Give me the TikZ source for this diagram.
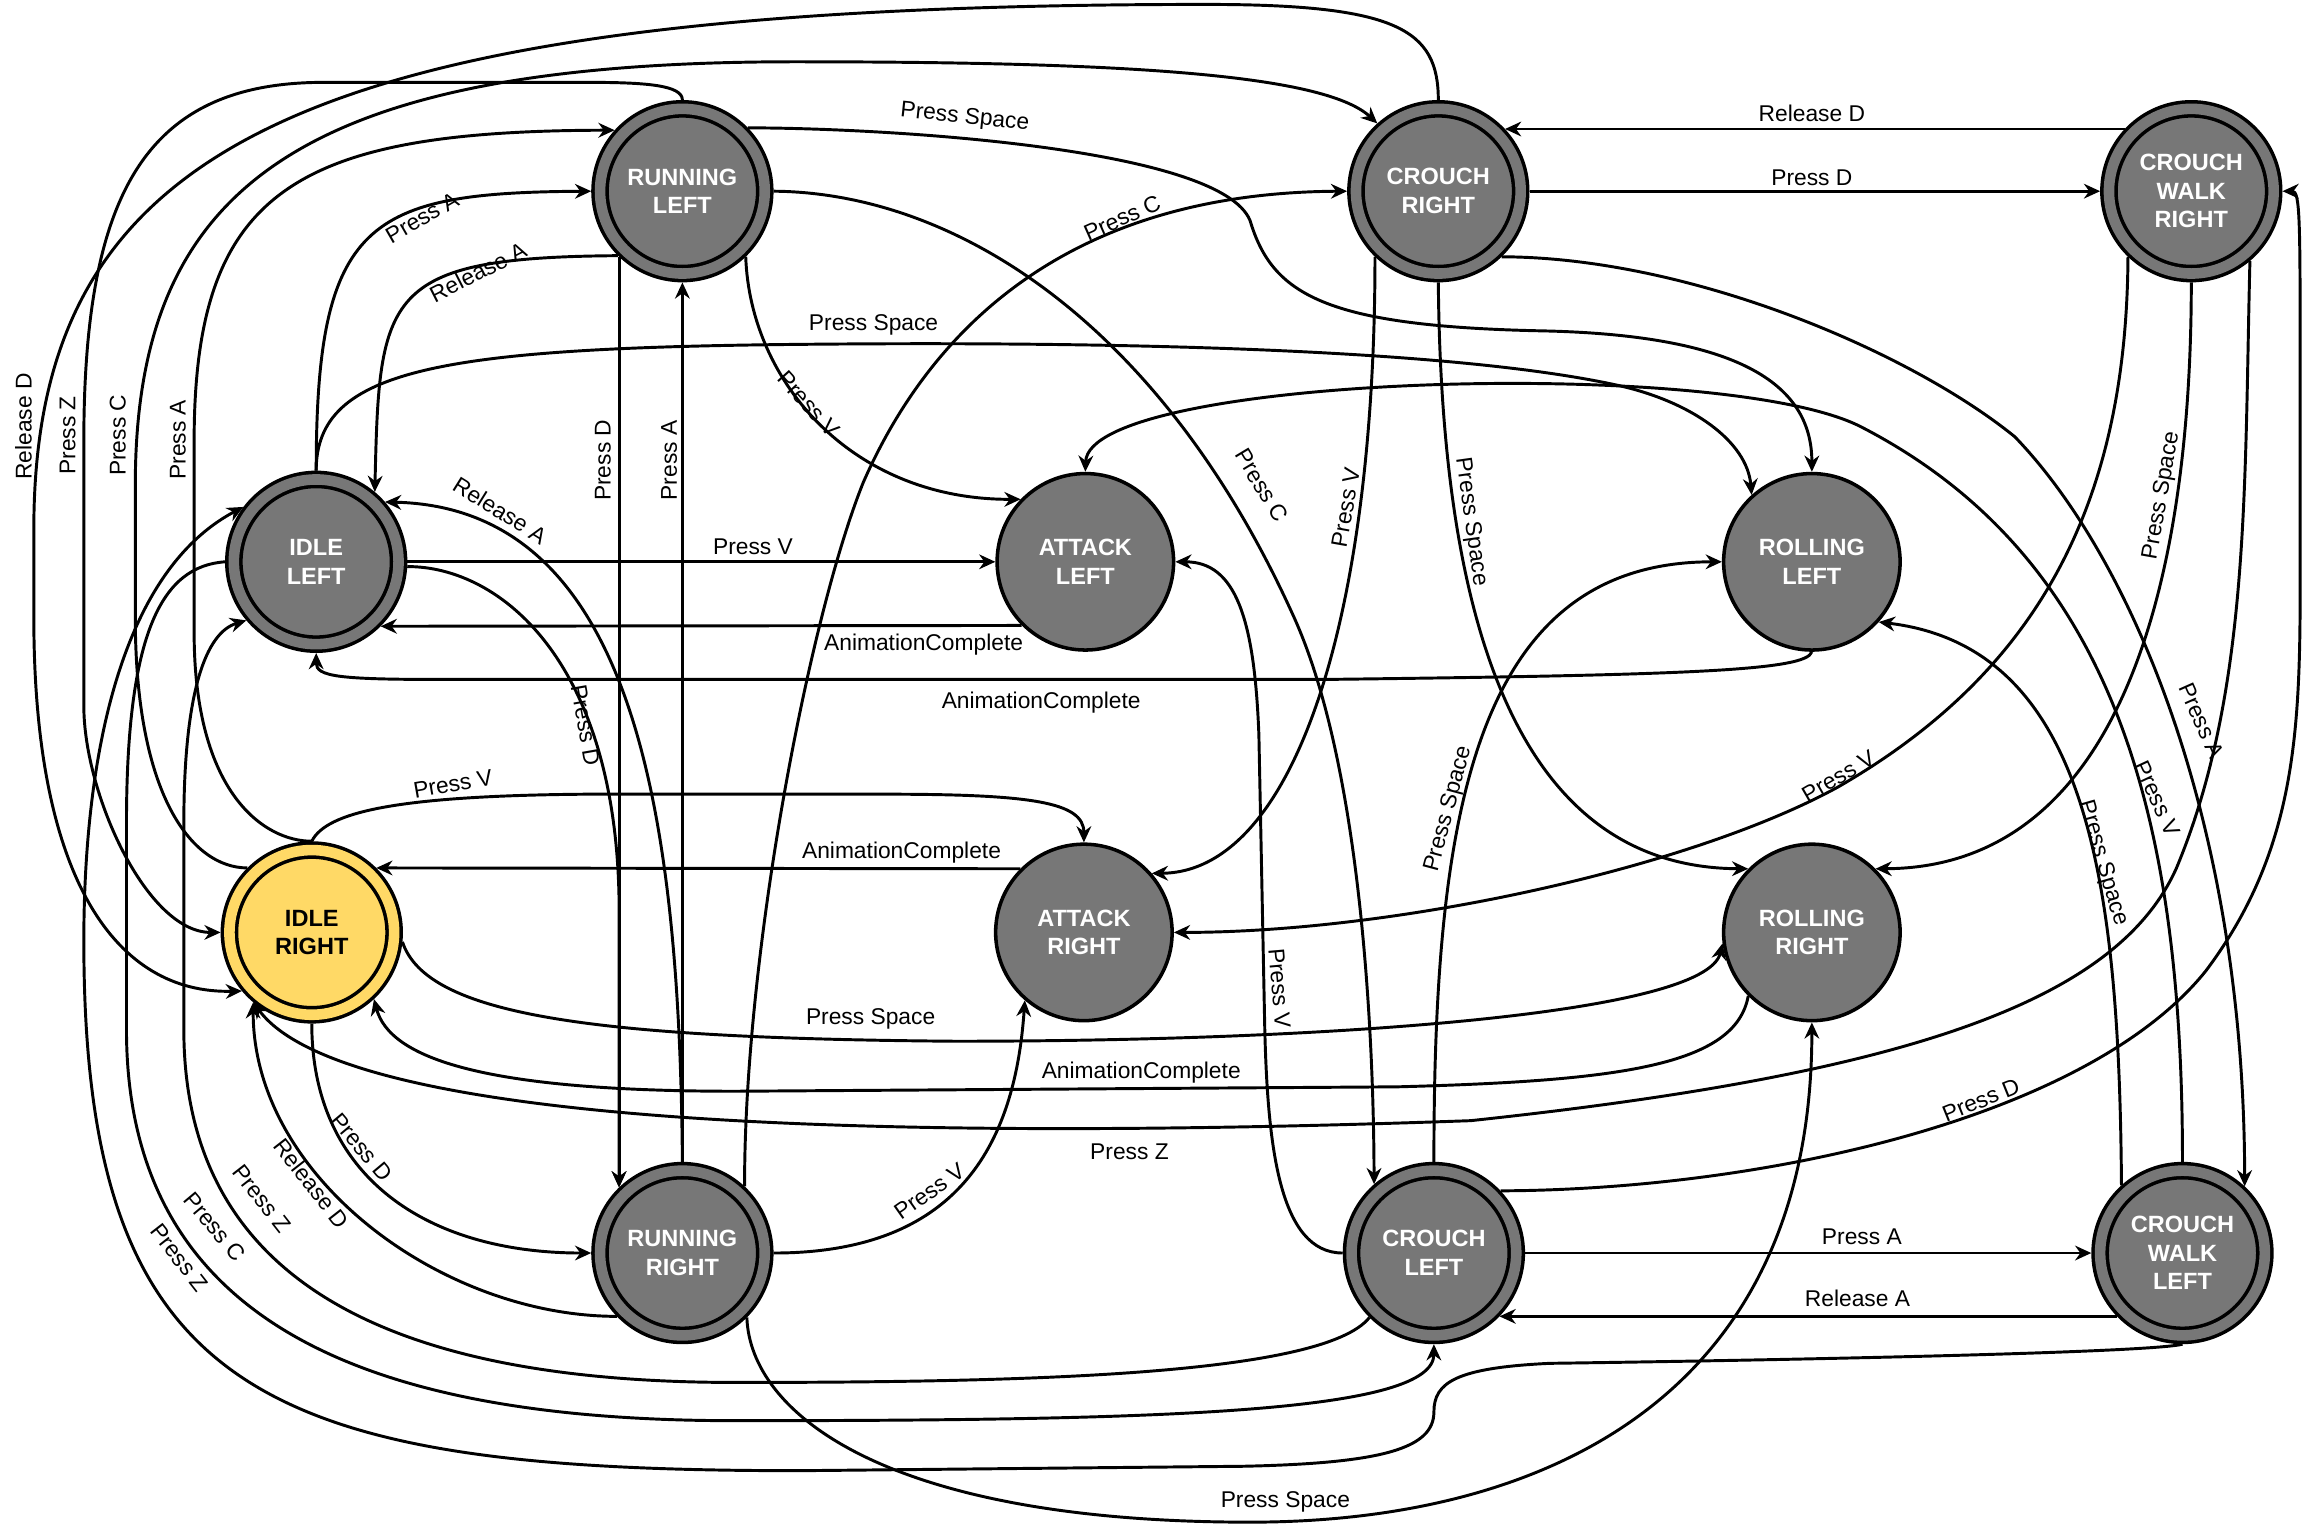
\documentclass[tikz,border=0pt]{standalone}
\usepackage{fontspec}
\setmainfont{Liberation Sans}
\usepackage{tikz}
\usetikzlibrary{arrows.meta}

\definecolor{stategray}{HTML}{777777}
\definecolor{idleyellow}{HTML}{FFD966}

\tikzset{
  dstate/.style={circle, draw, line width=2.4pt, fill=stategray, double=stategray,
    double distance=7.2pt, minimum size=112pt, inner sep=0pt, outer sep=6pt,
    align=center, text=white, font=\fontsize{16}{19.5}\selectfont\bfseries},
  istate/.style={dstate, fill=idleyellow, double=idleyellow, text=black},
  sstate/.style={circle, draw, line width=2.4pt, fill=stategray, minimum size=120pt,
    inner sep=0pt, outer sep=1.2pt, align=center, text=white,
    font=\fontsize{16}{19.5}\selectfont\bfseries},
  trans/.style={line width=2pt, -{Stealth[length=11pt, width=10pt]}},
  lbl/.style={font=\fontsize{15.5}{18}\selectfont, inner sep=0pt},
}

\begin{document}
\begin{tikzpicture}[x=1pt, y=-1pt]
\useasboundingbox (0,0) rectangle (1568,1037);

% States
\node[dstate] (runL)    at (464,130)  {RUNNING\\LEFT};
\node[dstate] (crouchR) at (978,130)  {CROUCH\\RIGHT};
\node[dstate] (cwalkR)  at (1490,130) {CROUCH\\WALK\\RIGHT};
\node[dstate] (idleL)   at (215,382)  {IDLE\\LEFT};
\node[sstate] (attackL) at (738,382)  {ATTACK\\LEFT};
\node[sstate] (rollL)   at (1232,382) {ROLLING\\LEFT};
\node[istate] (idleR)   at (212,634)  {IDLE\\RIGHT};
\node[sstate] (attackR) at (737,634)  {ATTACK\\RIGHT};
\node[sstate] (rollR)   at (1232,634) {ROLLING\\RIGHT};
\node[dstate] (runR)    at (464,852)  {RUNNING\\RIGHT};
\node[dstate] (crouchL) at (975,852)  {CROUCH\\LEFT};
\node[dstate] (cwalkL)  at (1484,852) {CROUCH\\WALK\\LEFT};

% Outer loops on the left
\draw[trans] (crouchR.north) .. controls (978,20) and (950,3) .. (820,3)
  .. controls (200,3) and (23,100) .. (23,360) -- (23,420)
  .. controls (23,600) and (80,676) .. (idleR.220);
\node[lbl, rotate=90] (t1) at (16,290) {Release D};

\draw[trans] (runL.north) .. controls (464,58) and (440,56) .. (400,56) -- (220,56)
  .. controls (100,56) and (57,130) .. (57,300) -- (57,480)
  .. controls (57,540) and (100,634) .. (idleR.west);
\node[lbl, rotate=90] (t2) at (46,296) {Press Z};

\draw[trans] (idleR.135) .. controls (130,590) and (92,540) .. (92,420) -- (92,330)
  .. controls (92,130) and (200,42) .. (540,42)
  .. controls (760,42) and (900,50) .. (crouchR.132);
\node[lbl, rotate=90] (t3) at (80,296) {Press C};

\draw[trans] (idleR.north) .. controls (180,572) and (132,540) .. (132,430) -- (132,300)
  .. controls (132,130) and (200,89) .. (runL.138);
\node[lbl, rotate=90] (t4) at (121,299) {Press A};

% Idle left and running left
\draw[trans] (idleL.north) .. controls (215,150) and (250,131) .. (runL.west);
\node[lbl, rotate=30] (t5) at (287,148) {Press A};

\draw[trans] (runL.225) .. controls (260,175) and (258,200) .. (idleL.50);
\node[lbl, rotate=27] (t6) at (325,185) {Release A};

\draw[trans] (runL.226) -- (runR.134);
\node[lbl, rotate=90] (t7) at (410,313) {Press D};

\draw[trans] (runR.north) -- (runL.south);
\node[lbl, rotate=90] (t8) at (455,313) {Press A};

\draw[trans] (runL.44) .. controls (600,87) and (830,100) .. (850,150)
  .. controls (865,200) and (900,222) .. (1050,225)
  .. controls (1180,228) and (1232,260) .. (rollL.north);
\node[lbl, rotate=-6] (t9) at (656,80) {Press Space};

\draw[trans] (runL.east) .. controls (650,131) and (790,220) .. (880,420)
  .. controls (925,520) and (934,700) .. (crouchL.131);
\node[lbl, rotate=-59] (t10) at (858,330) {Press C};

\draw[trans] (runL.314) .. controls (510,260) and (580,340) .. (attackL.136);
\node[lbl, rotate=-48] (t11) at (550,275) {Press V};

% Crouch right and crouch walk right
\draw[trans] (cwalkR.137) -- (crouchR.43);
\node[lbl] (t12) at (1232,77) {Release D};

\draw[trans] (crouchR.east) -- (cwalkR.west);
\node[lbl] (t13) at (1232,121) {Press D};

\draw[trans] (crouchR.314) .. controls (1150,175) and (1300,240) .. (1370,297)
  .. controls (1450,380) and (1526,560) .. (cwalkL.47);
\node[lbl, rotate=-66] (t14) at (1497,490) {Press A};

\draw[trans] (crouchR.226) .. controls (935,420) and (880,593) .. (attackR.41);
\node[lbl, rotate=80] (t15) at (915,345) {Press V};

\draw[trans] (crouchR.south) .. controls (980,420) and (1030,590) .. (rollR.135);
\node[lbl, rotate=-82] (t16) at (1000,355) {Press Space};

\draw[trans] (cwalkR.226) .. controls (1446,350) and (1380,460) .. (1250,535)
  .. controls (1150,590) and (950,634) .. (attackR.east);
\node[lbl, rotate=30] (t17) at (1250,528) {Press V};

\draw[trans] (cwalkR.south) .. controls (1490,400) and (1440,590) .. (rollR.45);
\node[lbl, rotate=80] (t18) at (1470,337) {Press Space};

\draw[trans] (crouchL.43) .. controls (1200,809) and (1420,760) .. (1500,660)
  .. controls (1560,580) and (1564,500) .. (1564,400) -- (1564,250)
  .. controls (1564,150) and (1564,130) .. (cwalkR.east);
\node[lbl, rotate=22] (t19) at (1347,748) {Press D};

\draw[trans] (cwalkR.310) .. controls (1526,330) and (1530,470) .. (1480,590)
  .. controls (1440,680) and (1300,730) .. (1000,762)
  .. controls (550,778) and (230,760) .. (idleR.230);
\node[lbl] (t20) at (768,783) {Press Z};

% Crouch walk left
\draw[trans] (cwalkL.132) .. controls (1441,600) and (1420,440) .. (rollL.318);
\node[lbl, rotate=-74] (t21) at (1430,587) {Press Space};

\draw[trans] (cwalkL.north) .. controls (1484,560) and (1440,380) .. (1265,290)
  .. controls (1170,242) and (740,255) .. (attackL.north);
\node[lbl, rotate=-65] (t22) at (1467,543) {Press V};

% Idle left
\draw[trans] (idleL.north) .. controls (215,250) and (300,236) .. (560,234)
  .. controls (800,232) and (1000,240) .. (1100,262)
  .. controls (1150,273) and (1188,300) .. (rollL.132);
\node[lbl] (t23) at (594,221) {Press Space};

\draw[trans] (runR.north) .. controls (462,550) and (430,345) .. (idleL.41);
\node[lbl, rotate=-32] (t24) at (340,347) {Release A};

\draw[trans] (idleL.east) -- (attackL.west);
\node[lbl] (t25) at (512,372) {Press V};

\draw[trans] (idleL.-3) .. controls (340,385) and (421,450) .. (421,620) -- (runR.134);
\node[lbl, rotate=-80] (t26) at (398,493) {Press D};

\draw[trans] (attackL.225) -- (idleL.315);
\node[lbl] (t27) at (628,438) {AnimationComplete};

\draw[trans] (rollL.south) .. controls (1228,456) and (1150,459) .. (900,462) -- (300,462)
  .. controls (230,462) and (215,460) .. (idleL.south);
\node[lbl] (t28) at (708,478) {AnimationComplete};

\draw[trans] (idleL.west) .. controls (110,385) and (86,430) .. (86,560) -- (86,700)
  .. controls (86,900) and (250,966) .. (500,966)
  .. controls (800,966) and (975,960) .. (crouchL.south);
\node[lbl, rotate=-50] (t29) at (146,834) {Press C};

\draw[trans] (cwalkL.south) .. controls (1460,920) and (1200,925) .. (1054,927)
  .. controls (990,930) and (975,940) .. (975,960)
  .. controls (975,985) and (940,995) .. (845,997) -- (544,1000)
  .. controls (180,1000) and (57,950) .. (57,640)
  .. controls (57,520) and (80,390) .. (idleL.143);
\node[lbl, rotate=-52] (t30) at (122,855) {Press Z};

\draw[trans] (crouchL.225) .. controls (900,935) and (700,940) .. (500,940)
  .. controls (280,940) and (125,880) .. (125,700) -- (125,560)
  .. controls (125,470) and (140,430) .. (idleL.220);
\node[lbl, rotate=-52] (t31) at (178,815) {Press Z};

% Idle right
\draw[trans] (idleR.north) .. controls (222,552) and (270,541) .. (400,540) -- (600,540)
  .. controls (700,540) and (737,545) .. (attackR.north);
\node[lbl, rotate=10] (t32) at (308,533) {Press V};

\draw[trans] (attackR.135) -- (idleR.45);
\node[lbl] (t33) at (613,580) {AnimationComplete};

\draw[trans] (idleR.-6) .. controls (290,690) and (400,706) .. (650,708)
  .. controls (900,708) and (1160,690) .. (rollR.187);
\node[lbl] (t34) at (592,693) {Press Space};

\draw[trans] (rollR.225) .. controls (1180,725) and (1100,735) .. (950,739) -- (500,742)
  .. controls (330,742) and (265,720) .. (idleR.313);
\node[lbl] (t35) at (776,729) {AnimationComplete};

\draw[trans] (idleR.south) .. controls (212,800) and (290,852) .. (runR.west);
\node[lbl, rotate=-50] (t36) at (246,780) {Press D};

\draw[trans] (runR.224) .. controls (300,895) and (172,800) .. (idleR.230);
\node[lbl, rotate=-52] (t37) at (212,805) {Release D};

% Bottom row
\draw[trans] (crouchL.west) .. controls (870,852) and (862,780) .. (860,700) -- (856,500)
  .. controls (853,420) and (840,382) .. (attackL.east);
\node[lbl, rotate=-85] (t38) at (870,672) {Press V};

\draw[trans] (runR.east) .. controls (650,852) and (690,780) .. (attackR.229);
\node[lbl, rotate=35] (t39) at (632,810) {Press V};

\draw[trans] (crouchL.north) .. controls (975,560) and (1000,382) .. (rollL.west);
\node[lbl, rotate=75] (t40) at (985,550) {Press Space};

\draw[trans] (runR.315) .. controls (510,960) and (600,1035) .. (850,1035)
  .. controls (1050,1035) and (1232,950) .. (rollR.south);
\node[lbl] (t41) at (874,1021) {Press Space};

\draw[trans] (runR.47) .. controls (506,650) and (550,420) .. (587,328)
  .. controls (630,230) and (720,131) .. (crouchR.west);
\node[lbl, rotate=24] (t42) at (763,148) {Press C};

\draw[trans] (crouchL.east) -- (cwalkL.west);
\node[lbl] (t43) at (1266,841) {Press A};

\draw[trans] (cwalkL.224) -- (crouchL.316);
\node[lbl] (t44) at (1263,883) {Release A};

\end{tikzpicture}
\end{document}
